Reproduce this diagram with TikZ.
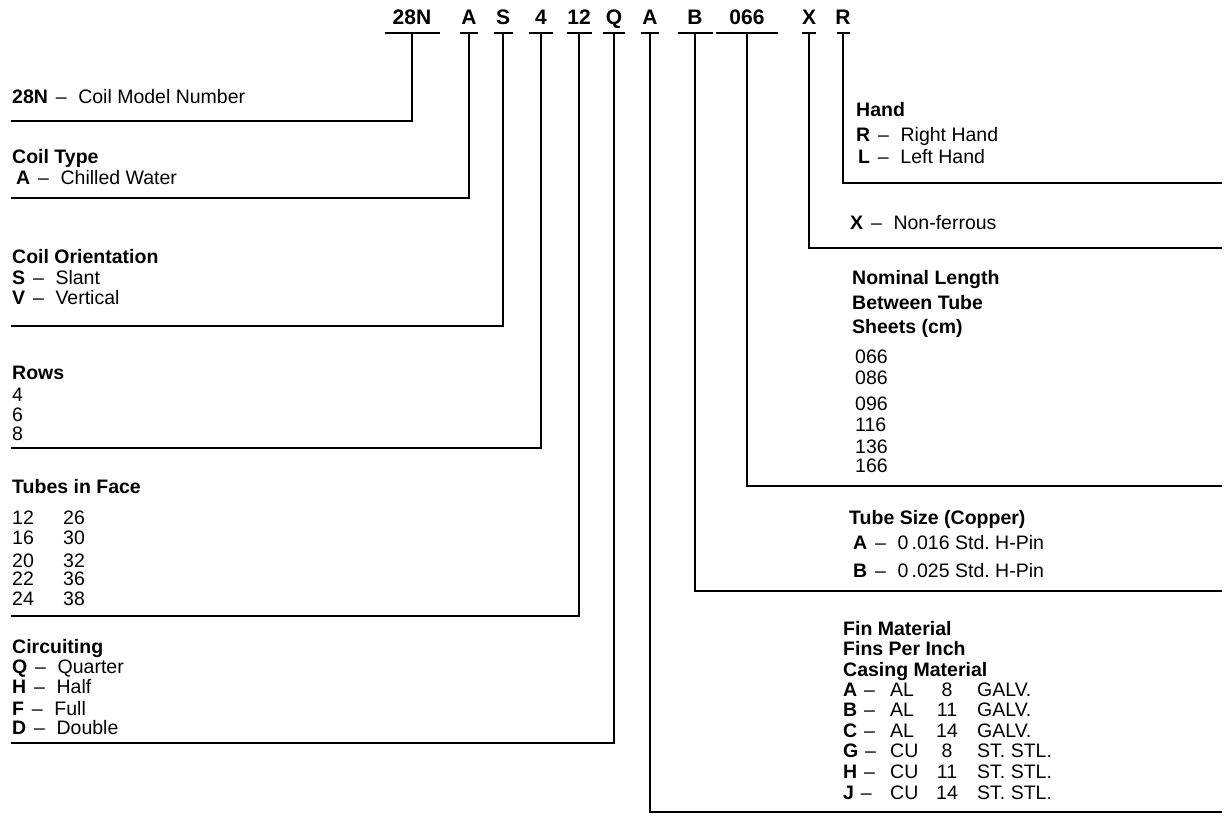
\documentclass[tikz,border=0pt]{standalone}
\usepackage{fontspec}
\setmainfont{Liberation Sans}
\frenchspacing
\tikzset{
  code/.style={font=\fontsize{21}{25}\selectfont\bfseries, anchor=base, inner sep=0pt},
  txt/.style={font=\fontsize{19.5}{22}\selectfont, anchor=base west, inner sep=0pt},
  ttl/.style={txt, font=\fontsize{19.5}{22}\selectfont\bfseries},
  num/.style={font=\fontsize{19.5}{22}\selectfont, anchor=base, inner sep=0pt},
  leader/.style={line width=1.8pt}
}
\newcommand{\keyln}[2]{\textbf{#1}\hspace{0.4em}--\hspace{0.6em}#2}
\begin{document}
\begin{tikzpicture}[x=1pt,y=-1pt]
  \useasboundingbox (0,0) rectangle (1224,816);
  \foreach \nm/\lbl/\xc/\w in {c28n/28N/412/55, ctype/A/469/18, corient/S/503/19,
      crows/4/541/24, ctubes/12/579/25, ccirc/Q/614/22, cfin/A/650/18,
      csize/B/695/35, clen/066/747/62, cmat/X/809/14, chand/R/843/13} {
    \node[code] (\nm) at (\xc,25) {\lbl};
    \coordinate (\nm-u) at (\xc,33);
    \draw[leader] (\xc-\w/2,33) -- (\xc+\w/2,33);
  }
  \coordinate (e28n) at (11,121);
  \coordinate (etype) at (11,198);
  \coordinate (eorient) at (11,326);
  \coordinate (erows) at (11,448);
  \coordinate (etubes) at (11,616);
  \coordinate (ecirc) at (11,743);
  \coordinate (efin) at (1222,812);
  \coordinate (esize) at (1222,591);
  \coordinate (elen) at (1222,486);
  \coordinate (emat) at (1222,248);
  \coordinate (ehand) at (1222,183);
  \foreach \nm/\en in {c28n/e28n, ctype/etype, corient/eorient, crows/erows,
      ctubes/etubes, ccirc/ecirc, cfin/efin, csize/esize, clen/elen,
      cmat/emat, chand/ehand}
    \draw[leader] (\nm-u) |- (\en);

  \node[txt] (t28n) at (12,103) {\keyln{28N}{Coil Model Number}};
  \node[ttl] (ttype) at (12,163) {Coil Type};
  \node[txt] (ttypea) at (16,184) {\keyln{A}{Chilled Water}};
  \node[ttl] (torient) at (12,263) {Coil Orientation};
  \node[txt] (torients) at (12,284) {\keyln{S}{Slant}};
  \node[txt] (torientv) at (12,304) {\keyln{V}{Vertical}};
  \node[ttl] (trows) at (12,379) {Rows};
  \foreach \v/\y [count=\i] in {4/401, 6/421, 8/440}
    \node[txt] (trows\i) at (12,\y) {\v};
  \node[ttl] (ttubes) at (12,493) {Tubes in Face};
  \foreach \a/\b/\y [count=\i] in {12/26/524, 16/30/544, 20/32/567, 22/36/585, 24/38/605} {
    \node[txt] (ttubes\i a) at (12,\y) {\a};
    \node[txt] (ttubes\i b) at (63,\y) {\b};
  }
  \node[ttl] (tcirc) at (12,653) {Circuiting};
  \foreach \k/\d/\y [count=\i] in {Q/Quarter/673, H/Half/693, F/Full/715, D/Double/734}
    \node[txt] (tcirc\i) at (12,\y) {\keyln{\k}{\d}};

  \node[ttl] (thand) at (856,117) {Hand};
  \node[txt] (thandr) at (856,141) {\keyln{R}{Right Hand}};
  \node[txt] (thandl) at (858,163) {\keyln{L}{Left Hand}};
  \node[txt] (tmat) at (850,229) {\keyln{X}{Non-ferrous}};
  \node[ttl] (tlen1) at (852,284) {Nominal Length};
  \node[ttl] (tlen2) at (852,309) {Between Tube};
  \node[ttl] (tlen3) at (852,333) {Sheets (cm)};
  \foreach \v/\y [count=\i] in {066/363, 086/384, 096/410, 116/431, 136/453, 166/472}
    \node[txt] (tlenv\i) at (855,\y) {\v};
  \node[ttl] (tsize) at (849,524) {Tube Size (Copper)};
  \node[txt] (tsizea) at (853,549) {\keyln{A}{0\,.016 Std. H-Pin}};
  \node[txt] (tsizeb) at (853,577) {\keyln{B}{0\,.025 Std. H-Pin}};
  \node[ttl] (tfin1) at (843,635) {Fin Material};
  \node[ttl] (tfin2) at (843,655) {Fins Per Inch};
  \node[ttl] (tfin3) at (843,676) {Casing Material};
  \foreach \k/\m/\n/\c/\y [count=\i] in {A/AL/8/GALV./696, B/AL/11/GALV./716,
      C/AL/14/GALV./737, G/CU/8/ST. STL./757, H/CU/11/ST. STL./778, J/CU/14/ST. STL./799} {
    \node[txt] (tfink\i) at (843,\y) {\textbf{\k}\hspace{0.35em}--};
    \node[txt] (tfinm\i) at (890,\y) {\m};
    \node[num] (tfinn\i) at (947,\y) {\n};
    \node[txt] (tfinc\i) at (977,\y) {\c};
  }
\end{tikzpicture}
\end{document}
